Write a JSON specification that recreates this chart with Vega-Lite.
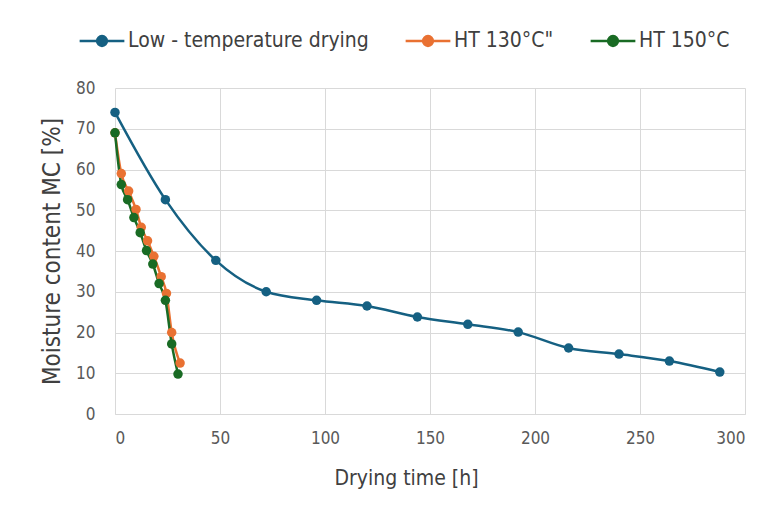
{
  "$schema": "https://vega.github.io/schema/vega-lite/v6.json",
  "width": 630,
  "height": 326,
  "autosize": {"type": "none"},
  "padding": {"left": 115, "top": 88, "right": 32, "bottom": 101},
  "background": "white",
  "config": {
    "font": "DejaVu Sans Condensed, Roboto, sans-serif",
    "view": {"stroke": null}
  },
  "data": {
    "values": [
      {"s": "Low - temperature drying", "t": 0, "mc": 74.0},
      {"s": "Low - temperature drying", "t": 24, "mc": 52.6},
      {"s": "Low - temperature drying", "t": 48, "mc": 37.7},
      {"s": "Low - temperature drying", "t": 72, "mc": 30.0},
      {"s": "Low - temperature drying", "t": 96, "mc": 27.9},
      {"s": "Low - temperature drying", "t": 120, "mc": 26.5},
      {"s": "Low - temperature drying", "t": 144, "mc": 23.8},
      {"s": "Low - temperature drying", "t": 168, "mc": 22.0},
      {"s": "Low - temperature drying", "t": 192, "mc": 20.1},
      {"s": "Low - temperature drying", "t": 216, "mc": 16.2},
      {"s": "Low - temperature drying", "t": 240, "mc": 14.7},
      {"s": "Low - temperature drying", "t": 264, "mc": 13.0},
      {"s": "Low - temperature drying", "t": 288, "mc": 10.3},
      {"s": "HT 130°C\"", "t": 0, "mc": 69.0},
      {"s": "HT 130°C\"", "t": 3, "mc": 59.0},
      {"s": "HT 130°C\"", "t": 6.5, "mc": 54.7},
      {"s": "HT 130°C\"", "t": 10, "mc": 50.2},
      {"s": "HT 130°C\"", "t": 12.5, "mc": 45.8},
      {"s": "HT 130°C\"", "t": 15.5, "mc": 42.5},
      {"s": "HT 130°C\"", "t": 18.5, "mc": 38.7},
      {"s": "HT 130°C\"", "t": 22, "mc": 33.7},
      {"s": "HT 130°C\"", "t": 24.5, "mc": 29.6},
      {"s": "HT 130°C\"", "t": 27, "mc": 20.0},
      {"s": "HT 130°C\"", "t": 31, "mc": 12.5},
      {"s": "HT 150°C", "t": 0, "mc": 69.0},
      {"s": "HT 150°C", "t": 3, "mc": 56.3},
      {"s": "HT 150°C", "t": 6, "mc": 52.6},
      {"s": "HT 150°C", "t": 9, "mc": 48.2},
      {"s": "HT 150°C", "t": 12, "mc": 44.5},
      {"s": "HT 150°C", "t": 15, "mc": 40.1},
      {"s": "HT 150°C", "t": 18, "mc": 36.8},
      {"s": "HT 150°C", "t": 21, "mc": 32.0},
      {"s": "HT 150°C", "t": 24, "mc": 27.9},
      {"s": "HT 150°C", "t": 27, "mc": 17.2},
      {"s": "HT 150°C", "t": 30, "mc": 9.8}
    ]
  },
  "mark": {
    "type": "line",
    "interpolate": "monotone",
    "strokeWidth": 2.5,
    "point": {"filled": true, "size": 90, "opacity": 1}
  },
  "encoding": {
    "x": {
      "field": "t",
      "type": "quantitative",
      "scale": {"domain": [0, 300], "nice": false},
      "axis": {
        "title": "Drying time [h]",
        "values": [0, 50, 100, 150, 200, 250, 300],
        "grid": true,
        "gridColor": "#d9d9d9",
        "domainColor": "#d9d9d9",
        "ticks": false,
        "labelPadding": 16,
        "labelFontSize": 17,
        "labelColor": "#595959",
        "titleFontSize": 21,
        "titleFontWeight": "normal",
        "titleColor": "#404040",
        "titlePadding": 21,
        "titleX": 291,
        "titleAlign": "center"
      }
    },
    "y": {
      "field": "mc",
      "type": "quantitative",
      "scale": {"domain": [0, 80], "nice": false},
      "axis": {
        "title": "Moisture content MC [%]",
        "values": [0, 10, 20, 30, 40, 50, 60, 70, 80],
        "grid": true,
        "gridColor": "#d9d9d9",
        "domain": false,
        "ticks": false,
        "labelPadding": 20,
        "labelFontSize": 17,
        "labelColor": "#595959",
        "titleFontSize": 24,
        "titleFontWeight": "normal",
        "titleColor": "#404040",
        "titlePadding": 11
      }
    },
    "color": {
      "field": "s",
      "type": "nominal",
      "sort": ["Low - temperature drying", "HT 130°C\"", "HT 150°C"],
      "scale": {
        "domain": ["Low - temperature drying", "HT 130°C\"", "HT 150°C"],
        "range": ["#156082", "#E97132", "#196B24"]
      },
      "legend": {
        "title": null,
        "orient": "none",
        "legendX": -37,
        "legendY": -71,
        "direction": "horizontal",
        "columnPadding": 31,
        "labelFontSize": 21,
        "labelLimit": 400,
        "labelColor": "#404040",
        "labelOffset": 2,
        "symbolType": "M-1,0L-0.22,0M0.22,0L1,0M-0.22,0A0.22,0.22 0 1,1 0.22,0A0.22,0.22 0 1,1 -0.22,0Z",
        "symbolSize": 2000,
        "symbolStrokeWidth": 2.5
      }
    }
  }
}
